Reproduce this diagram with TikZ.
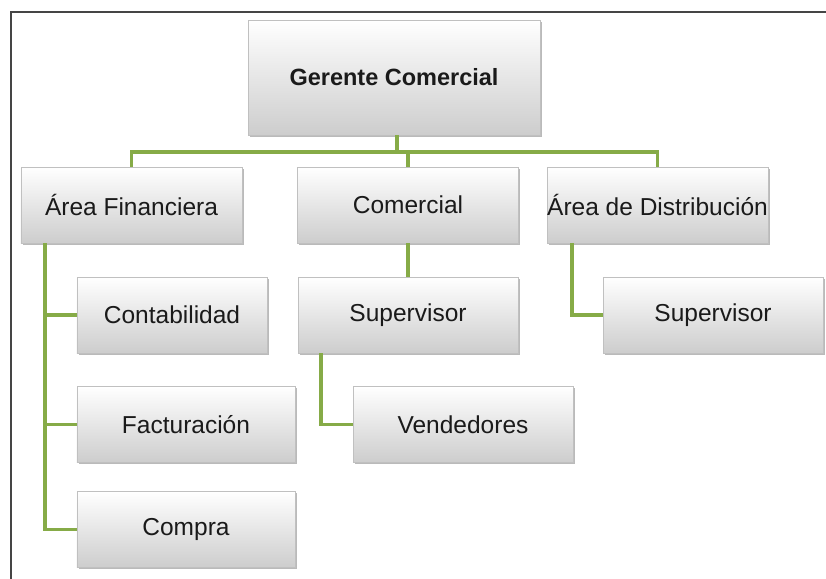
\documentclass[tikz,border=0pt]{standalone}
\usepackage{fontspec}
\setmainfont{Liberation Sans}
\usetikzlibrary{shadows}
\definecolor{OCBranch}{HTML}{86AB47}
\definecolor{OCFrame}{HTML}{454545}
\definecolor{OCBoxLow}{HTML}{CDCDCD}
\definecolor{OCEdge}{HTML}{C0C0C0}
\definecolor{OCInk}{HTML}{1A1A1A}
\tikzset{
  unit/.style={draw=OCEdge,line width=0.6bp,top color=white,bottom color=OCBoxLow,
               text=OCInk,align=center,inner sep=0pt,
               minimum width=220bp,minimum height=76bp,
               font=\fontsize{24.5bp}{28bp}\selectfont,
               drop shadow={shadow xshift=1.6bp,shadow yshift=-1.8bp,opacity=.45,fill=black!60}},
  unithead/.style={unit,minimum width=292bp,minimum height=115bp,
                   font=\fontsize{23.5bp}{27bp}\selectfont\bfseries},
  branch/.style={OCBranch,line width=3.6bp,line join=miter},
  frame/.style={OCFrame,line width=1.6bp},
}
\begin{document}
\begin{tikzpicture}[x=1bp,y=-1bp]
    \useasboundingbox[fill=white] (0,0) rectangle (826,579);
    \draw[frame] (826,12) -| (11,579);

    % top
    \node[unithead] (gerente) at (394,77.5) {Gerente Comercial};

    % second level
    \node[unit,minimum width=221bp] (finan) at (131.5,205) {Área Financiera};
    \node[unit,minimum width=221bp] (comercial) at (408,205) {Comercial};
    \node[unit,minimum width=221bp] (distrib) at (657.5,205) {Área de Distribución};

    % under Área Financiera
    \node[unit,minimum width=190bp] (contab) at (172,315) {Contabilidad};
    \node[unit,minimum width=218bp] (factur) at (186,424.5) {Facturación};
    \node[unit,minimum width=218bp] (compra) at (186,529.5) {Compra};

    % under Comercial
    \node[unit] (superv) at (408,315) {Supervisor};
    \node[unit] (vended) at (463,424.5) {Vendedores};

    % under Área de Distribución
    \node[unit] (supervd) at (713,315) {Supervisor};

    % rails
    \coordinate (bus) at (397,152);
    \coordinate (frail) at (45,0);
    \coordinate (srail) at (321,0);
    \coordinate (drail) at (572,0);

    \draw[branch] (gerente.south -| bus) -- (bus);
    \draw[branch] (finan.north) |- (bus) -| (distrib.north);
    \draw[branch] (comercial.north |- bus) -- (comercial.north);

    \draw[branch] (finan.south -| frail) |- (compra.west);
    \draw[branch] (contab.west -| frail) -- (contab.west);
    \draw[branch] (factur.west -| frail) -- (factur.west);

    \draw[branch] (comercial.south) -- (superv.north);
    \draw[branch] (superv.south -| srail) |- (vended.west);

    \draw[branch] (distrib.south -| drail) |- (supervd.west);
\end{tikzpicture}
\end{document}
